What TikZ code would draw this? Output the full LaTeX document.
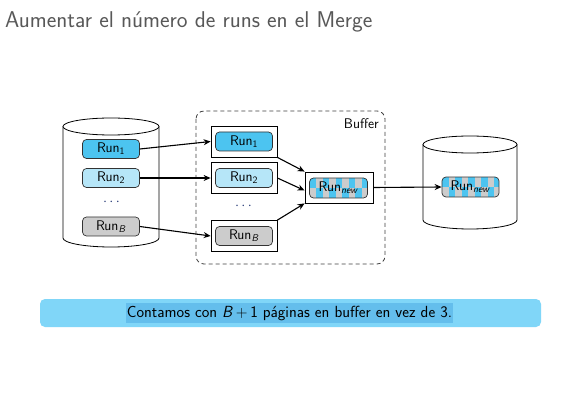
\documentclass[tikz,border=0pt]{standalone}
\usetikzlibrary{arrows.meta}
\definecolor{runA}{RGB}{76,196,240}
\definecolor{runB}{RGB}{182,230,248}
\definecolor{runG}{RGB}{204,204,204}
\definecolor{barbg}{RGB}{128,214,248}
\definecolor{barhl}{RGB}{100,190,236}
\definecolor{titlegray}{RGB}{88,88,88}
\definecolor{dotblue}{RGB}{40,60,120}
\begin{document}
\begin{tikzpicture}[x=1pt,y=-1pt,
  font=\sffamily,
  runbox/.style={draw=black!80,line width=0.7pt,rounded corners=4pt,minimum width=57pt,minimum height=19pt,inner sep=0pt,font=\fontsize{14}{16}\sffamily},
  framebox/.style={draw=black,line width=0.8pt,minimum width=66pt,minimum height=31pt,inner sep=0pt},
  cyl/.style={draw=black,line width=0.8pt,fill=white},
  dotsnode/.style={inner sep=0pt,font=\fontsize{15}{17}\selectfont,text=dotblue},
  arr/.style={-{Stealth[length=7pt,width=6pt]},line width=1.1pt,black}]
\useasboundingbox (0,0) rectangle (578,403);
\fill[white] (0,0) rectangle (578,403);
% title
\node[anchor=base west,inner sep=0pt,text=titlegray,font=\fontsize{22.8}{26}\sffamily] (title) at (5,28) {Aumentar el n\'umero de runs en el Merge};
% left cylinder
\draw[cyl] (63,126.5) -- (63,238) arc[start angle=180,end angle=0,x radius=48,y radius=9] -- (159,126.5);
\draw[cyl] (111,126.5) ellipse[x radius=48,y radius=8.5];
% right cylinder
\draw[cyl] (423,144.5) -- (423,220) arc[start angle=180,end angle=0,x radius=47,y radius=9] -- (517,144.5);
\draw[cyl] (470,144.5) ellipse[x radius=47,y radius=8.5];
% buffer
\draw[line width=0.8pt,black!75,rounded corners=8pt,dash pattern=on 4pt off 3pt] (196,111) rectangle (385,264);
\node[anchor=base east,font=\fontsize{14}{16}\sffamily,inner sep=0pt] (buflabel) at (379,129) {Buffer};
% left runs
\node[runbox,fill=runA] (l1) at (111,149) {Run\textsubscript{1}};
\node[runbox,fill=runB] (l2) at (111,178) {Run\textsubscript{2}};
\node[dotsnode] (ld) at (111.5,202) {\(\cdots\)};
\node[runbox,fill=runG] (lB) at (111,226.5) {Run\textsubscript{\textit{B}}};
% buffer frames
\node[framebox] (f1) at (244,141.5) {};
\node[runbox,fill=runA] (b1) at (f1) {Run\textsubscript{1}};
\node[framebox] (f2) at (244,178) {};
\node[runbox,fill=runB] (b2) at (f2) {Run\textsubscript{2}};
\node[dotsnode] (bd) at (243.5,206) {\(\cdots\)};
\node[framebox] (fB) at (244,236) {};
\node[runbox,fill=runG] (bB) at (fB) {Run\textsubscript{\textit{B}}};
% new frame
\node[framebox,minimum width=68pt] (fn) at (339,187.5) {};
% checkered run new (in buffer)
\begin{scope}
  \clip[rounded corners=4pt] (309.5,178) rectangle (367.5,198);
  \fill[runA] (309.5,178) rectangle (367.5,198);
  \foreach \i in {0,...,9}{
    \foreach \j in {0,1}{
      \pgfmathtruncatemacro{\pty}{mod(\i+\j,2)}
      \ifnum\pty=1 \fill[runG] ({309.5+\i*6.5},{178+\j*10}) rectangle ++(6.5,10);\fi
    }
  }
\end{scope}
\node[runbox,minimum width=58pt,minimum height=20pt] (bn) at (338.5,188) {Run\textsubscript{\textit{new}}};
\begin{scope}
  \clip[rounded corners=4pt] (442,177) rectangle (499,197);
  \fill[runA] (442,177) rectangle (499,197);
  \foreach \i in {0,...,9}{
    \foreach \j in {0,1}{
      \pgfmathtruncatemacro{\pty}{mod(\i+\j,2)}
      \ifnum\pty=1 \fill[runG] ({442+\i*6.5},{177+\j*10}) rectangle ++(6.5,10);\fi
    }
  }
\end{scope}
\node[runbox,minimum width=57pt,minimum height=20pt] (rn) at (470.5,187) {Run\textsubscript{\textit{new}}};
% arrows
\draw[arr] (l1.east) -- (f1.west);
\draw[arr] (l2.east) -- (f2.west);
\draw[arr] (lB.east) -- (fB.west);
\draw[arr] (f1.south east) -- (fn.north west);
\draw[arr] (f2.east) -- ([yshift=-3pt]fn.west);
\draw[arr] (fB.north east) -- (fn.south west);
\draw[arr] (fn.east) -- (rn.west);
% bottom bar
\fill[barbg,rounded corners=5pt] (40,299) rectangle (541,327);
\fill[barhl] (126,303) rectangle (453,323);
\node[font=\fontsize{16.1}{18}\sffamily,inner sep=0pt] (bar) at (289.5,313) {Contamos con \textit{B}\,+\,1 p\'aginas en buffer en vez de 3.};
\end{tikzpicture}
\end{document}
